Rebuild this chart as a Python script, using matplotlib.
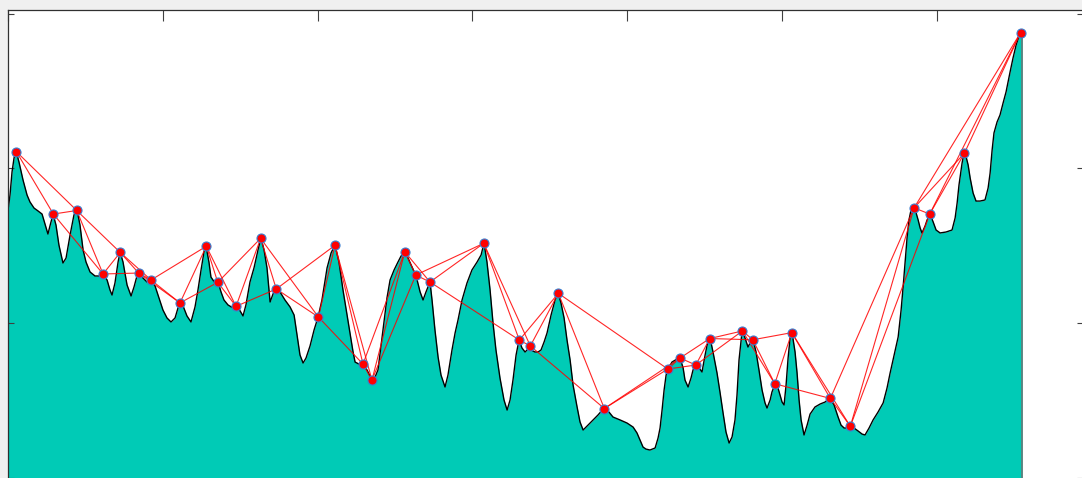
import numpy as np
import matplotlib
matplotlib.use('Agg')
import matplotlib.pyplot as plt

# terrain profile (distance, elevation)
dist = [0, 1.3, 2.6, 3.9, 5.2, 7.1, 9.7, 12.3, 14.2, 16.8, 19.4, 22.0, 23.9, 25.8, 27.1, 29.1,
        31.0, 32.9, 35.5, 37.5, 40.1, 42.6, 44.6, 46.5, 48.5, 50.4, 53.0, 56.2, 59.4, 61.4,
        64.0, 65.9, 67.2, 69.1, 71.1, 72.4, 74.3, 76.9, 79.5, 81.4, 83.3, 84.6, 87.2, 89.8,
        92.4, 95.0, 97.5, 100.1, 102.7, 105.3, 107.9, 109.8, 111.1, 113.1, 115.6, 118.2,
        120.8, 122.7, 124.7, 126.6, 127.9, 129.8, 131.1, 133.7, 135.7, 137.6, 139.5, 142.1,
        145.4, 147.3, 149.2, 151.8, 153.7, 156.3, 158.9, 161.5, 163.4, 165.4, 167.3, 169.3,
        171.2, 173.1, 175.7, 178.9, 182.2, 184.8, 186.7, 188.6, 190.6, 192.5, 195.1, 197.7,
        200.3, 202.8, 206.1, 208.7, 211.2, 213.8, 216.4, 219.0, 220.9, 222.9, 224.2, 226.7,
        229.3, 231.9, 235.1, 237.1, 239.0, 241.0, 242.9, 244.8, 246.8, 249.4, 251.9, 253.9,
        256.5, 258.4, 261.0, 263.6, 266.2, 268.1, 270.0, 272.6, 273.9, 275.8, 277.8, 279.7,
        282.3, 284.2, 286.8, 288.8, 290.7, 293.3, 296.5, 299.7, 303.0, 305.6, 307.5, 309.4,
        311.4, 313.3, 315.2, 317.8, 320.4, 322.4, 324.3, 326.2, 328.2, 330.1, 332.0, 334.0,
        335.9, 337.9, 340.4, 342.4, 344.3, 346.3, 348.2, 350.8, 353.4, 355.3, 357.2, 359.2,
        361.1, 363.1, 365.0, 367.6, 369.5, 371.5, 374.7, 377.9, 381.1, 385.0, 388.2, 390.8,
        395.4, 399.9, 403.8, 406.3, 408.3, 410.2, 412.1, 414.7, 418.0, 419.9, 421.2, 422.5,
        423.8, 425.1, 426.4, 428.9, 432.2, 434.1, 436.1, 437.3, 439.3, 441.2, 442.5, 444.4,
        446.4, 448.3, 450.3, 451.6, 453.5, 455.4, 458.0, 460.0, 461.9, 463.8, 465.8, 467.7,
        469.6, 470.9, 472.2, 474.2, 476.1, 478.0, 479.3, 481.3, 483.2, 485.1, 487.1, 489.0,
        490.3, 492.3, 493.5, 495.5, 497.4, 498.7, 500.0, 501.3, 502.6, 503.9, 505.2, 506.5,
        508.4, 509.7, 511.0, 512.3, 514.2, 516.2, 518.1, 521.3, 524.6, 527.8, 531.0, 533.6,
        536.2, 538.1, 540.1, 542.0, 543.9, 546.5, 549.1, 551.7, 553.6, 556.2, 558.8, 562.0,
        565.3, 567.8, 569.8, 572.4, 575.0, 576.9, 578.2, 579.5, 580.8, 582.0, 583.3, 585.3,
        586.6, 587.9, 589.2, 590.4, 592.4, 593.7, 595.6, 597.6, 599.5, 602.1, 605.9, 609.8,
        611.8, 613.1, 614.3, 616.3, 617.6, 618.9, 620.2, 621.5, 623.4, 625.3, 627.9, 631.1,
        633.1, 634.4, 635.7, 636.9, 638.9, 640.8, 642.8, 644.7, 647.3, 649.2, 651.2, 653.8,
        655.0]
elev = [173.1, 182.8, 197.7, 206.7, 211.2, 204.1, 192.5, 182.8, 178.3, 174.4, 172.5, 170.5,
        164.1, 157.6, 162.8, 170.5, 163.4, 150.5, 138.9, 142.1, 157.0, 169.9, 173.1, 163.4,
        147.3, 139.5, 133.1, 130.5, 130.5, 131.8, 127.9, 121.4, 118.2, 126.0, 139.5, 146.0,
        139.5, 124.7, 117.6, 123.4, 130.5, 132.4, 129.2, 126.6, 127.9, 124.0, 116.3, 108.5,
        103.4, 100.8, 103.4, 109.8, 113.1, 111.1, 104.7, 100.8, 110.5, 121.4, 134.4, 146.0,
        149.9, 139.5, 129.8, 126.0, 126.6, 120.2, 115.0, 111.8, 109.8, 111.1, 109.2, 104.7,
        111.8, 126.6, 135.7, 147.3, 155.0, 147.3, 135.7, 113.7, 118.9, 122.1, 120.2, 115.0,
        110.5, 105.3, 92.4, 79.5, 74.3, 77.5, 85.3, 95.6, 104.0, 115.0, 135.7, 145.4, 150.5,
        139.5, 121.4, 105.3, 93.7, 81.4, 74.9, 73.6, 73.6, 69.8, 63.3, 65.2, 69.8, 85.9,
        100.8, 116.3, 127.9, 134.4, 139.5, 143.4, 146.0, 142.1, 136.3, 130.5, 120.2, 115.0,
        120.2, 126.6, 115.0, 95.6, 78.2, 66.5, 58.8, 66.5, 82.7, 93.7, 102.1, 115.0, 126.0,
        134.4, 139.5, 144.1, 151.8, 139.5, 121.4, 100.1, 82.7, 64.6, 50.4, 43.9, 50.4, 63.3,
        79.5, 89.1, 84.0, 81.4, 83.3, 82.7, 81.4, 81.4, 82.7, 87.9, 93.7, 105.3, 115.0,
        119.5, 113.1, 103.4, 89.1, 76.2, 60.1, 45.9, 36.2, 31.0, 34.2, 37.5, 40.7, 45.2,
        42.6, 39.4, 37.5, 35.5, 32.9, 29.1, 24.5, 20.0, 18.7, 18.1, 19.4, 25.8, 32.3, 43.9,
        56.8, 66.5, 70.4, 74.9, 76.9, 77.5, 71.1, 63.3, 58.8, 64.6, 69.8, 73.0, 71.1, 68.5,
        79.5, 85.9, 90.4, 81.4, 67.8, 54.9, 42.0, 29.7, 22.6, 26.5, 37.5, 53.6, 76.2, 95.0,
        90.4, 84.6, 87.2, 89.1, 81.4, 69.8, 56.8, 48.5, 45.2, 50.4, 55.6, 60.7, 58.1, 53.6,
        49.1, 47.2, 60.1, 77.5, 90.4, 93.7, 81.4, 67.8, 50.4, 37.5, 27.8, 34.2, 41.3, 45.9,
        47.8, 49.1, 51.7, 47.2, 39.4, 34.2, 32.3, 32.3, 33.6, 32.3, 30.4, 28.4, 27.8, 32.3,
        37.5, 42.6, 48.5, 58.1, 67.8, 79.5, 91.1, 108.5, 123.4, 139.5, 155.7, 166.7, 173.1,
        174.4, 171.2, 166.7, 161.5, 158.3, 162.8, 166.7, 170.5, 165.4, 160.2, 158.3, 158.9,
        160.2, 168.0, 177.7, 189.3, 203.5, 210.0, 207.4, 202.2, 193.8, 184.1, 178.9, 178.9,
        179.6, 187.3, 197.0, 211.9, 222.9, 230.0, 234.5, 242.3, 249.4, 262.3, 271.3, 279.7,
        287.5, 287.5]

# selected points on the profile
node_x = [5.4, 29.3, 44.4, 61.4, 72.5, 84.4, 92.4, 111.1, 128.1, 135.5, 147.3, 163.2, 173.3,
          200.5, 211.2, 229.3, 235.1, 256.3, 263.4, 272.6, 307.3, 330.3, 337.4, 355.5, 385.2,
          426.2, 434.1, 444.3, 453.3, 474.4, 481.1, 495.3, 506.3, 531.2, 544.1, 585.3, 595.4,
          617.8, 654.1]
node_y = [210.8, 170.5, 172.8, 131.8, 145.7, 132.4, 127.9, 113.1, 149.7, 126.4, 110.9, 154.8,
          122.1, 104.0, 150.3, 73.6, 63.3, 146.1, 131.1, 126.6, 151.6, 89.1, 85.3, 119.3, 44.9,
          70.4, 77.5, 73.0, 90.1, 95.0, 89.3, 60.9, 93.9, 51.4, 33.4, 174.5, 170.5, 209.8, 287.7]

# links between points (index pairs)
edges = [(i, i + 1) for i in range(len(node_x) - 1)] + \
        [(i, i + 2) for i in range(len(node_x) - 2)] + [(35, 38)]

teal = '#00CBB6'
fig = plt.figure(figsize=(10.82, 4.78), dpi=100, facecolor='#f0f0f0')
ax = fig.add_axes([8 / 1082, -20 / 478, 1075 / 1082, 488 / 478])
ax.set_facecolor('white')

ybot = -12.9
ax.fill_between(dist, elev, ybot, color=teal, lw=0, zorder=1)
ax.plot(dist, elev, color='black', lw=1.0, zorder=2)
ax.plot([dist[-1], dist[-1]], [elev[-1], ybot], color='#5f7f7c', lw=1.3, zorder=2)

for a, b in edges:
    ax.plot([node_x[a], node_x[b]], [node_y[a], node_y[b]], color='red', lw=0.8,
            alpha=0.85, zorder=3)
ax.plot(node_x, node_y, 'o', ms=6.5, mfc='red', mec='#3a7fd0', mew=0.8, zorder=4)

ax.set_xlim(0, 694.4)
ax.set_ylim(ybot, 302.3)
ax.set_xticks(range(0, 700, 100))
ax.set_yticks([0, 100, 200, 300])
ax.tick_params(axis='x', direction='in', top=True, bottom=True, length=8, width=0.8,
               color='#404040', labelbottom=False)
ax.tick_params(axis='y', direction='in', left=True, right=True, length=4.5, width=0.8,
               color='#404040', labelleft=False)
for s in ax.spines.values():
    s.set_color('#303030')
    s.set_linewidth(0.9)

fig.savefig('out.png', dpi=100, facecolor=fig.get_facecolor())
